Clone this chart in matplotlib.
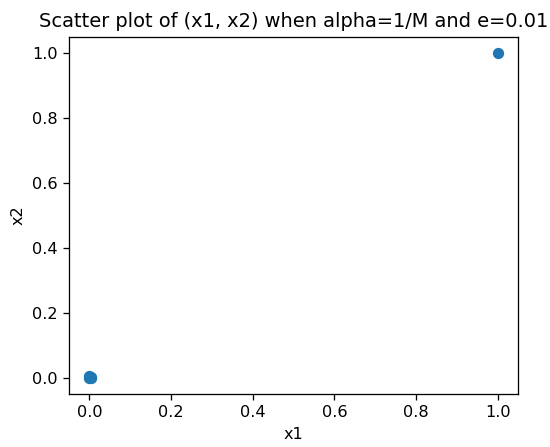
import matplotlib
matplotlib.use("Agg")
import matplotlib.pyplot as plt

x1 = [0.0, 0.004, 0.0, 0.003, 1.0]
x2 = [0.0, 0.0, 0.004, 0.003, 1.0]

DPI = 116
fig = plt.figure(figsize=(550 / DPI, 447 / DPI), dpi=DPI)
ax = fig.add_axes([0.1255, 0.1186, 0.8165, 0.7984])
ax.scatter(x1, x2)
ax.set_xlabel("x1")
ax.set_ylabel("x2")
ax.set_title("Scatter plot of (x1, x2) when alpha=1/M and e=0.01")
fig.savefig("out.png", dpi=DPI)
